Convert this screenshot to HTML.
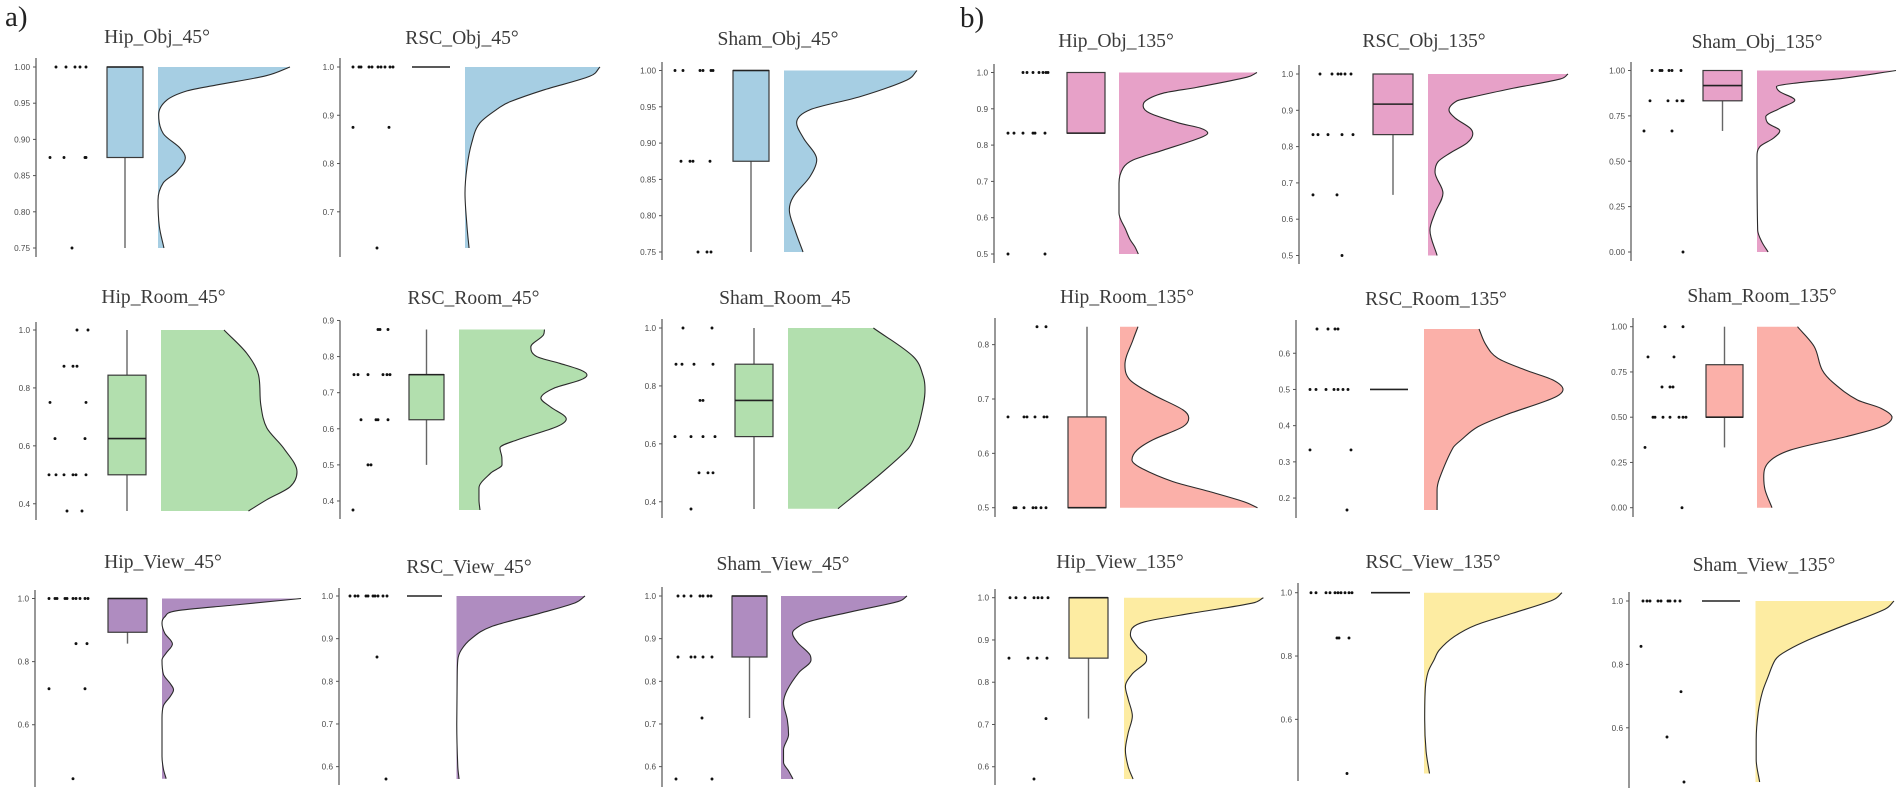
<!DOCTYPE html>
<html lang="en">
<head>
<meta charset="utf-8">
<title>Raincloud plots 45° and 135°</title>
<style>
html,body{margin:0;padding:0;background:#fff;width:1902px;height:798px;overflow:hidden}
svg{display:block;filter:blur(0.3px)}
.title{font-family:"Liberation Serif",serif;font-size:19.6px;fill:#3a3a3a;text-anchor:middle}
.tag{font-family:"Liberation Serif",serif;font-size:29px;fill:#222}
.tick{font-family:"Liberation Sans",sans-serif;font-size:8.2px;fill:#4a4a4a;text-anchor:end}
</style>
</head>
<body>
<svg id="chart" xmlns="http://www.w3.org/2000/svg" width="1902" height="798" viewBox="0 0 1902 798">
<rect x="0" y="0" width="1902" height="798" fill="#ffffff"/>
<text class="tag" x="5" y="26">a)</text>
<text class="tag" x="960" y="27">b)</text>
<text class="title" x="157" y="43">Hip_Obj_45°</text>
<text class="title" x="462" y="44">RSC_Obj_45°</text>
<text class="title" x="778" y="45">Sham_Obj_45°</text>
<text class="title" x="1116" y="47">Hip_Obj_135°</text>
<text class="title" x="1424" y="47">RSC_Obj_135°</text>
<text class="title" x="1757" y="48">Sham_Obj_135°</text>
<text class="title" x="163.5" y="303">Hip_Room_45°</text>
<text class="title" x="473.5" y="304">RSC_Room_45°</text>
<text class="title" x="785" y="304">Sham_Room_45</text>
<text class="title" x="1127" y="303">Hip_Room_135°</text>
<text class="title" x="1436" y="305">RSC_Room_135°</text>
<text class="title" x="1762" y="302">Sham_Room_135°</text>
<text class="title" x="163" y="568">Hip_View_45°</text>
<text class="title" x="469" y="573">RSC_View_45°</text>
<text class="title" x="783" y="570">Sham_View_45°</text>
<text class="title" x="1120" y="568">Hip_View_135°</text>
<text class="title" x="1433" y="568">RSC_View_135°</text>
<text class="title" x="1764" y="571">Sham_View_135°</text>
</svg>
<script>
/* ---------- DATA (panel order: Hip, RSC, Sham × Obj45, Obj135, Room45, Room135, View45, View135) ---------- */
const panelKeys = ["hip-obj-45","rsc-obj-45","sham-obj-45","hip-obj-135","rsc-obj-135","sham-obj-135",
  "hip-room-45","rsc-room-45","sham-room-45","hip-room-135","rsc-room-135","sham-room-135",
  "hip-view-45","rsc-view-45","sham-view-45","hip-view-135","rsc-view-135","sham-view-135"];

const yDomains = [[.75,1],[.625,1],[.75,1],[.5,1],[.5,1],[0,1],
  [.375,1],[.375,.875],[.375,1],[.5,.833],[.167,.667],[0,1],
  [.429,1],[.571,1],[.571,1],[.571,1],[.429,1],[.429,1]];

const yTickLabels = [
  ["1.00","0.95","0.90","0.85","0.80","0.75"],
  ["1.0","0.9","0.8","0.7"],
  ["1.00","0.95","0.90","0.85","0.80","0.75"],
  ["1.0","0.9","0.8","0.7","0.6","0.5"],
  ["1.0","0.9","0.8","0.7","0.6","0.5"],
  ["1.00","0.75","0.50","0.25","0.00"],
  ["1.0","0.8","0.6","0.4"],
  ["0.9","0.8","0.7","0.6","0.5","0.4"],
  ["1.0","0.8","0.6","0.4"],
  ["0.8","0.7","0.6","0.5"],
  ["0.6","0.5","0.4","0.3","0.2"],
  ["1.00","0.75","0.50","0.25","0.00"],
  ["1.0","0.8","0.6"],
  ["1.0","0.9","0.8","0.7","0.6"],
  ["1.0","0.9","0.8","0.7","0.6"],
  ["1.0","0.9","0.8","0.7","0.6"],
  ["1.0","0.8","0.6"],
  ["1.0","0.8","0.6"]
];

/* whisker-low, q1, median, q3, whisker-high */
const boxStats = [
  [.75,.875,1,1,1],[1,1,1,1,1],[.75,.875,1,1,1],
  [.833,.833,.833,1,1],[.667,.833,.917,1,1],[.667,.833,.917,1,1],
  [.375,.5,.625,.844,1],[.5,.625,.75,.75,.875],[.375,.625,.75,.875,1],
  [.5,.5,.5,.667,.833],[.5,.5,.5,.5,.5],[.333,.5,.5,.79,1],
  [.857,.893,1,1,1],[1,1,1,1,1],[.714,.857,1,1,1],
  [.714,.857,1,1,1],[1,1,1,1,1],[1,1,1,1,1]
];

const dotValues = [
  [1,1,1,1,1,.875,.875,.875,.875,.75],
  [1,1,1,1,1,1,1,1,1,1,.875,.875,.625],
  [1,1,1,1,1,1,.875,.875,.875,.875,.75,.75,.75],
  [1,1,1,1,1,1,1,.833,.833,.833,.833,.833,.833,.5,.5],
  [1,1,1,1,1,1,.833,.833,.833,.833,.833,.667,.667,.5],
  [1,1,1,1,1,1,.833,.833,.833,.833,.833,.667,.667,0],
  [1,1,.875,.875,.875,.75,.75,.625,.625,.5,.5,.5,.5,.5,.5,.375,.375],
  [.875,.875,.875,.75,.75,.75,.75,.75,.75,.625,.625,.625,.625,.5,.5,.375],
  [1,1,.875,.875,.875,.875,.75,.75,.625,.625,.625,.625,.5,.5,.5,.375],
  [.833,.833,.667,.667,.667,.667,.667,.667,.5,.5,.5,.5,.5,.5,.5],
  [.667,.667,.667,.667,.5,.5,.5,.5,.5,.5,.5,.333,.333,.167],
  [1,1,.833,.833,.667,.667,.667,.5,.5,.5,.5,.5,.5,.5,.333,0],
  [1,1,1,1,1,1,1,1,1,1,.857,.857,.714,.714,.429],
  [1,1,1,1,1,1,1,1,1,1,.857,.571],
  [1,1,1,1,1,1,1,.857,.857,.857,.857,.857,.714,.571,.571],
  [1,1,1,1,1,1,1,.857,.857,.857,.857,.714,.571],
  [1,1,1,1,1,1,1,1,1,1,.857,.857,.857,.429],
  [1,1,1,1,1,1,1,1,1,.857,.714,.571,.429]
];

/* jitter of each dot across the rain strip, 0..1 */
const dotJitter = [
  [.20,.30,.39,.44,.50,.14,.28,.49,.50,.36],
  [.13,.19,.21,.29,.32,.38,.41,.45,.50,.53,.13,.49,.37],
  [.13,.21,.38,.41,.49,.51,.19,.28,.31,.48,.36,.45,.49],
  [.29,.33,.39,.45,.49,.52,.54,.14,.20,.29,.39,.41,.51,.14,.51],
  [.21,.33,.39,.42,.46,.52,.14,.19,.29,.43,.54,.14,.38,.43],
  [.21,.29,.31,.38,.41,.50,.19,.37,.46,.51,.52,.13,.41,.52],
  [.41,.52,.28,.37,.41,.14,.50,.19,.49,.13,.20,.28,.37,.40,.50,.31,.46],
  [.38,.40,.48,.14,.18,.28,.43,.47,.50,.21,.36,.38,.48,.28,.31,.13],
  [.21,.50,.14,.20,.32,.51,.38,.41,.13,.29,.41,.53,.37,.46,.51,.29],
  [.42,.51,.13,.29,.32,.40,.49,.52,.19,.21,.29,.38,.41,.46,.51],
  [.21,.32,.39,.42,.14,.20,.30,.38,.42,.47,.52,.14,.55,.51],
  [.32,.50,.15,.41,.29,.37,.40,.20,.22,.30,.37,.46,.50,.53,.12,.49],
  [.14,.20,.22,.30,.32,.38,.41,.45,.50,.53,.41,.52,.14,.50,.38],
  [.11,.16,.19,.27,.29,.34,.36,.39,.44,.48,.38,.47],
  [.16,.22,.29,.38,.41,.46,.49,.16,.29,.33,.41,.50,.40,.14,.50],
  [.15,.21,.30,.39,.43,.47,.53,.14,.33,.42,.52,.51,.39],
  [.13,.18,.28,.32,.37,.40,.43,.47,.51,.54,.39,.41,.51,.49],
  [.14,.18,.21,.29,.32,.39,.41,.46,.51,.12,.52,.38,.55]
];

/* half-violin: score levels (descending) and density normalised to peak = 1 */
const densityLevels = [
  [1,.988,.975,.967,.954,.934,.908,.888,.875,.855,.84,.816,.78,.75],
  [1,.981,.952,.928,.917,.884,.843,.793,.739,.669,.625],
  [1,.987,.964,.946,.928,.907,.877,.854,.826,.808,.78,.75],
  [1,.987,.959,.943,.92,.908,.888,.86,.847,.833,.82,.786,.759,.737,.695,.613,.566,.54,.52,.5],
  [1,.986,.959,.935,.926,.901,.879,.851,.835,.81,.782,.758,.73,.672,.617,.57,.5],
  [1,.957,.929,.911,.883,.837,.791,.745,.709,.668,.626,.58,.525,.12,.054,0],
  [1,.92,.845,.741,.662,.593,.51,.459,.414,.375],
  [.875,.86,.827,.8,.781,.763,.749,.735,.712,.685,.661,.627,.606,.569,.547,.52,.5,.478,.436,.403,.375],
  [1,.901,.832,.786,.683,.614,.579,.483,.376],
  [.833,.809,.763,.735,.708,.68,.665,.649,.625,.606,.588,.573,.548,.53,.511,.5],
  [.667,.623,.586,.554,.526,.5,.476,.43,.397,.36,.339,.255,.222,.167],
  [1,.89,.761,.687,.595,.549,.5,.447,.392,.319,.254,.171,.098,0],
  [1,.979,.961,.942,.922,.89,.856,.827,.805,.76,.73,.711,.69,.66,.62,.5,.46,.429],
  [1,.984,.96,.928,.9,.874,.85,.8,.7,.6,.571],
  [1,.987,.963,.94,.924,.913,.89,.862,.85,.82,.78,.75,.71,.675,.64,.61,.59,.571],
  [1,.987,.963,.943,.928,.912,.884,.861,.853,.82,.79,.76,.72,.68,.64,.6,.571],
  [1,.977,.935,.898,.861,.819,.787,.75,.7,.6,.5,.429],
  [1,.974,.919,.872,.835,.814,.76,.713,.65,.562,.5,.429]
];

const densityHeights = [
  [1,.82,.44,.22,.065,.005,.04,.167,.207,.14,.04,0,.01,.045],
  [1,.926,.578,.333,.26,.11,.05,.015,0,.015,.03],
  [1,.925,.573,.196,.095,.146,.246,.196,.07,.04,.083,.143],
  [1,.927,.563,.32,.187,.175,.223,.442,.587,.643,.587,.32,.102,.03,0,0,.05,.08,.115,.14],
  [1,.943,.586,.3,.207,.15,.193,.3,.32,.279,.157,.071,.05,.107,.05,.014,.065],
  [1,.62,.26,.14,.164,.272,.164,.063,.08,.164,.116,.02,0,.005,.036,.08],
  [.463,.63,.717,.734,.778,.9,1,.95,.778,.643],
  [.668,.66,.561,.608,.79,.948,1,.948,.739,.64,.713,.838,.765,.452,.32,.335,.336,.25,.156,.156,.164],
  [.623,.915,.988,1,.964,.915,.869,.642,.365],
  [.131,.095,.036,.073,.24,.458,.5,.458,.24,.124,.087,.153,.385,.647,.902,1],
  [.396,.446,.532,.727,.928,1,.928,.59,.388,.266,.209,.112,.094,.094],
  [.3,.424,.483,.57,.744,.919,1,.919,.657,.25,.09,.05,.06,.111],
  [1,.513,.104,.02,0,.02,.075,.03,0,.01,.06,.083,.06,.01,0,0,.01,.03],
  [1,.923,.654,.269,.115,.038,.01,.005,.002,.01,.02],
  [1,.929,.556,.222,.119,.091,.135,.23,.238,.14,.05,.02,.05,.06,.02,.02,.06,.095],
  [1,.918,.482,.149,.059,.046,.097,.162,.162,.06,.01,.03,.06,.03,.01,.03,.065],
  [1,.934,.642,.377,.218,.111,.072,.03,.01,.005,.015,.04],
  [1,.934,.617,.354,.195,.142,.09,.05,.02,.005,.005,.03]
];

/* ---------- LAYOUT ---------- */
const axisLeft   = [36,340,662,994,1299,1631,36,340,662,995,1296,1633,35,339,662,995,1298,1629];
const axisTop    = [58,58,62,64,65,62,322,320.5,319,318,320,318,590,588,587,589,583,592];
const axisBottom = [257,257,260,263,264,261,520,519,518,517,518,517,787,785,787,785,781,788];
const rangeTop   = [67,67,70.5,72.5,74,70.5,330,329.5,328,326.7,329,326.7,598.5,596,596,597.7,592.7,601];
const rangeBottom= [248,248,252,254,255.5,252,511,510,509,507.7,510,507.7,778.7,779,779,779,773.5,782];
const boxLeft    = [107,412,733,1067,1373,1703,108,409,735,1068,1370,1706,108,407,732,1069,1371,1702];
const boxRight   = [143,450,769,1105,1413,1742,146,444,773,1106,1408,1743,147,442,767,1108,1410,1740];
const violinLeft = [158,465,784,1119,1428,1757,161,459,788,1120,1424,1757,162,456.5,781,1124,1424,1755.5];
const violinWidth= [132,135,133,138,140,139,136,128,137,137.5,139,135,139,128.5,126,139.4,138,138.5];
const rainStrip  = 100;
const fills = ["#a6cee3","#a6cee3","#a6cee3","#e7a1c8","#e7a1c8","#e7a1c8",
  "#b2dfae","#b2dfae","#b2dfae","#fbb0a9","#fbb0a9","#fbb0a9",
  "#af8cc0","#af8cc0","#af8cc0","#fdeca2","#fdeca2","#fdeca2"];

/* ---------- DRAWING ---------- */
const NS = "http://www.w3.org/2000/svg";
const chart = document.getElementById("chart");

function make(tag, parent, attrs) {
  const el = document.createElementNS(NS, tag);
  for (const k in attrs) el.setAttribute(k, attrs[k]);
  parent.appendChild(el);
  return el;
}

function yScale(i) {
  const lo = yDomains[i][0], hi = yDomains[i][1];
  return function (v) {
    return rangeBottom[i] + (v - lo) / (hi - lo) * (rangeTop[i] - rangeBottom[i]);
  };
}

function xDensity(i) {
  return function (d) { return violinLeft[i] + d * violinWidth[i]; };
}

function xRain(i) {
  return function (j) { return axisLeft[i] + j * rainStrip; };
}

/* shape-preserving cubic through the points, x as a function of y */
function smoothCurve(pts) {
  const n = pts.length;
  const slopes = [];
  for (let k = 0; k < n - 1; k++) {
    slopes.push((pts[k + 1][0] - pts[k][0]) / (pts[k + 1][1] - pts[k][1]));
  }
  const tangents = pts.map(function (p, k) {
    if (k === 0) return slopes[0];
    if (k === n - 1) return slopes[n - 2];
    const a = slopes[k - 1], b = slopes[k];
    if (a * b <= 0) return 0;
    const m = (pts[k + 1][0] - pts[k - 1][0]) / (pts[k + 1][1] - pts[k - 1][1]);
    const cap = 3 * Math.min(Math.abs(a), Math.abs(b));
    return Math.sign(m) * Math.min(Math.abs(m), cap);
  });
  let d = "";
  for (let k = 0; k < n - 1; k++) {
    const h = pts[k + 1][1] - pts[k][1];
    const c1x = pts[k][0] + tangents[k] * h / 3, c1y = pts[k][1] + h / 3;
    const c2x = pts[k + 1][0] - tangents[k + 1] * h / 3, c2y = pts[k + 1][1] - h / 3;
    d += " C" + c1x.toFixed(2) + "," + c1y.toFixed(2) + " " + c2x.toFixed(2) + "," + c2y.toFixed(2) + " " + pts[k + 1][0].toFixed(2) + "," + pts[k + 1][1].toFixed(2);
  }
  return d;
}

panelKeys.forEach(function (key, i) {
  const y = yScale(i), xd = xDensity(i), xr = xRain(i);

  const g = make("g", chart, {});
  
  

  /* y axis */
  const axis = make("line", g, {x1: axisLeft[i], x2: axisLeft[i], y1: axisTop[i], y2: axisBottom[i], stroke: "#777", "stroke-width": 1.5});
  
  

  yTickLabels[i].forEach(function (label) {
    const v = Number(label);
    const mark = make("line", g, {x1: axisLeft[i] - 3, x2: axisLeft[i], y1: y(v), y2: y(v), stroke: "#555", "stroke-width": 1});
    
    
    const txt = make("text", g, {class: "tick", x: axisLeft[i] - 6, y: y(v) + 3});
    txt.textContent = label;
    
    
  });

  /* half violin */
  const pts = densityLevels[i].map(function (v, k) { return [xd(densityHeights[i][k]), y(v)]; });
  const curve = smoothCurve(pts);
  const first = pts[0], last = pts[pts.length - 1];
  const area = make("path", g, {
    d: "M" + violinLeft[i] + "," + first[1].toFixed(1) + " L" + first[0].toFixed(1) + "," + first[1].toFixed(1) + curve + " L" + violinLeft[i] + "," + last[1].toFixed(1) + " Z",
    fill: fills[i], stroke: "none"
  });
  
  
  const outline = make("path", g, {
    d: "M" + first[0].toFixed(1) + "," + first[1].toFixed(1) + curve,
    fill: "none", stroke: "#2a2a2a", "stroke-width": 1.1
  });
  
  

  /* box plot */
  const s = boxStats[i];
  const cx = (boxLeft[i] + boxRight[i]) / 2;
  if (s[0] !== s[4]) {
    const whisker = make("line", g, {x1: cx, x2: cx, y1: y(s[4]), y2: y(s[0]), stroke: "#666", "stroke-width": 1.4});
    
    
  }
  if (s[1] !== s[3]) {
    const rect = make("rect", g, {x: boxLeft[i], y: y(s[3]), width: boxRight[i] - boxLeft[i], height: y(s[1]) - y(s[3]), fill: fills[i], stroke: "#3a3a3a", "stroke-width": 1.2});
    
    
  }
  const median = make("line", g, {x1: boxLeft[i], x2: boxRight[i], y1: y(s[2]), y2: y(s[2]), stroke: "#222", "stroke-width": 1.6});
  
  

  /* rain dots */
  dotValues[i].forEach(function (v, k) {
    const dot = make("circle", g, {cx: xr(dotJitter[i][k]), cy: y(v), r: 1.45, fill: "#111"});
    
    
  });
});
</script>
</body>
</html>
